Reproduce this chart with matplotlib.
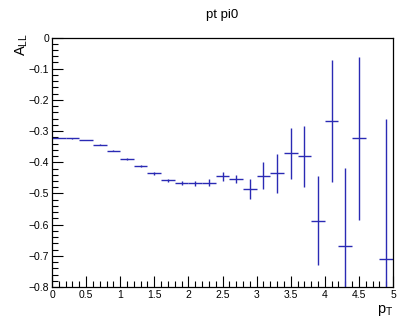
import matplotlib
matplotlib.use("Agg")
import matplotlib.pyplot as plt
import numpy as np
from matplotlib.ticker import MultipleLocator

plt.rcParams['font.family'] = ['Liberation Sans', 'DejaVu Sans']

# bin centres (0.2 wide bins), asymmetry and its error; 4.6-4.8 bin is empty
pt = [0.1, 0.3, 0.5, 0.7, 0.9, 1.1, 1.3, 1.5, 1.7, 1.9, 2.1, 2.3, 2.5,
      2.7, 2.9, 3.1, 3.3, 3.5, 3.7, 3.9, 4.1, 4.3, 4.5, 4.9]
all_vals = [-0.322, -0.323, -0.329, -0.344, -0.363, -0.389, -0.413, -0.436,
            -0.458, -0.467, -0.467, -0.465, -0.445, -0.453, -0.486, -0.443,
            -0.436, -0.371, -0.381, -0.587, -0.267, -0.668, -0.323, -0.710]
all_err = [0.001, 0.001, 0.001, 0.002, 0.002, 0.003, 0.003, 0.004,
           0.005, 0.007, 0.008, 0.010, 0.015, 0.013, 0.031, 0.043,
           0.061, 0.082, 0.098, 0.144, 0.195, 0.250, 0.262, 0.450]
bin_half = 0.1

fig = plt.figure(figsize=(3.97, 3.21), dpi=100)
ax = fig.add_axes([0.131, 0.106, 0.859, 0.777])

ax.errorbar(pt, all_vals, yerr=all_err, xerr=bin_half, fmt='none',
            ecolor='#2a2ab4', elinewidth=1.0, capsize=0)

ax.set_xlim(0, 5)
ax.set_ylim(-0.8, 0)
ax.xaxis.set_minor_locator(MultipleLocator(0.1))
ax.yaxis.set_minor_locator(MultipleLocator(0.02))
ax.tick_params(which='both', direction='in', top=False, right=False,
               labelsize=7.5, pad=2)
ax.tick_params(which='major', length=8, width=0.8)
ax.tick_params(which='minor', length=4, width=0.8)
ax.set_xticks(np.arange(0, 5.01, 0.5))
ax.set_xticklabels(['0', '0.5', '1', '1.5', '2', '2.5', '3', '3.5', '4', '4.5', '5'])
ax.set_yticks(np.arange(-0.8, 0.001, 0.1))
ax.set_yticklabels(['\u22120.8', '\u22120.7', '\u22120.6', '\u22120.5', '\u22120.4',
                    '\u22120.3', '\u22120.2', '\u22120.1', '0'])
for s in ax.spines.values():
    s.set_linewidth(0.9)

fig.text(0.56, 0.953, 'pt pi0', ha='center', va='center', fontsize=9.5)
fig.text(0.055, 0.86, r'A$_{\mathregular{LL}}$', rotation=90, ha='center',
         va='center', fontsize=10.5)
fig.text(0.97, 0.032, r'p$_{\mathregular{T}}$', ha='center', va='center', fontsize=10.5)

fig.savefig('out.png', dpi=100)
